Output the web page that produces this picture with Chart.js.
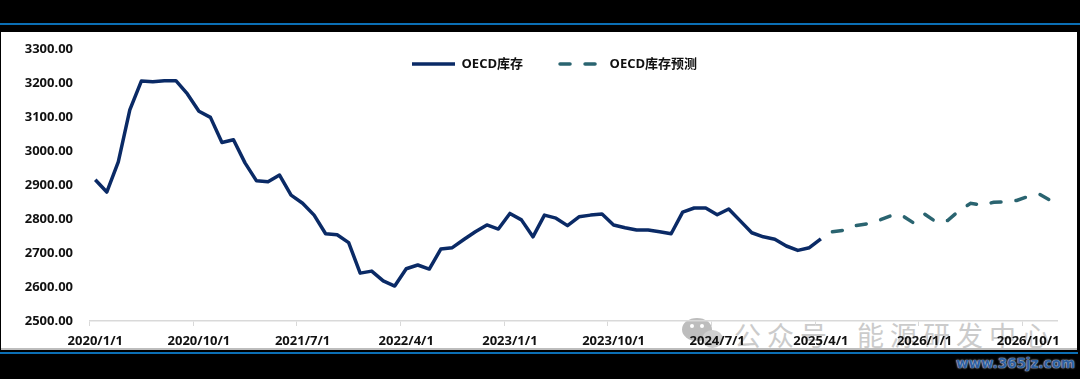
<!DOCTYPE html>
<html><head><meta charset="utf-8">
<script src="https://cdn.jsdelivr.net/npm/chart.js@4"></script>
<style>
html,body{margin:0;padding:0;width:1080px;height:379px;background:#000;overflow:hidden}
.rule{position:absolute;background:#0b6fb5}
#panel{position:absolute;left:1px;top:32px;width:1076px;height:316px;background:#fff;border-bottom:2px solid #bdbdbd;box-sizing:content-box;overflow:hidden}
.mark{position:absolute;top:285px;font:27px "Noto Sans CJK SC";color:#cbcbcb;white-space:nowrap;letter-spacing:6px;line-height:36px}
.bub{position:absolute;border-radius:50%;background:#bdbdbd}
.eye{position:absolute;width:4px;height:4px;border-radius:50%;background:#fff}
#site{position:absolute;left:956px;top:355px;font:bold 13.5px "DejaVu Sans";color:#2f5f9e;text-shadow:0 0 1px #cfe0f5,0 0 2px #cfe0f5;white-space:nowrap}
canvas{position:absolute;left:0;top:0}
</style></head><body>
<div class="rule" style="left:0;top:23px;width:1080px;height:2px"></div>
<div class="rule" style="left:0;top:352px;width:1078px;height:2px"></div>
<div id="panel">
  <div class="bub" style="left:681px;top:286px;width:30px;height:23px"></div>
  <div class="eye" style="left:689px;top:292px"></div>
  <div class="eye" style="left:699px;top:292px"></div>
  <div class="bub" style="left:701px;top:298px;width:21px;height:18px;background:#cfcfcf"></div>
  <div class="mark" style="left:733px">公众号</div>
  <div class="mark" style="left:856px">能源研发中心</div>
</div>
<div id="site">www.365jz.com</div>
<canvas id="c" width="1080" height="379"></canvas>
<script>
const seriesActualName = 'OECD库存';
const seriesForecastName = 'OECD库存预测';
const actualValues = [2916,2880,2969,3122,3207,3205,3208,3208,3169,3118,3100,3026,3034,2966,2913,2910,2930,2871,2847,2812,2757,2754,2731,2641,2647,2618,2603,2654,2665,2653,2712,2716,2740,2763,2783,2771,2817,2798,2748,2812,2803,2781,2807,2812,2815,2783,2775,2768,2768,2763,2757,2821,2833,2833,2813,2830,2795,2760,2748,2741,2721,2708,2716,2742];
const forecastValues = [2763,2767,2781,2786,2796,2809,2812,2790,2815,2792,2796,2825,2847,2841,2850,2851,2855,2867,2873,2854];
const startYear = 2020;
const monthCount = 84;
const labelEvery = 9;

const categories = [];
for (let i = 0; i < monthCount; i++) {
  categories.push((startYear + Math.floor(i / 12)) + '/' + (i % 12 + 1) + '/1');
}
const pad = arr => arr.concat(Array(monthCount - arr.length).fill(null));
const front = (arr) => Array(monthCount - arr.length).fill(null).concat(arr);
const FONT = '"Open Sans","Noto Sans CJK SC",sans-serif';
const axisGrey = '#d9d9d9';
const legendGap = 37;

new Chart(document.getElementById('c'), {
  type: 'line',
  data: {
    labels: categories,
    datasets: [
      {label: seriesActualName, data: pad(actualValues), borderColor: '#0a2a66', backgroundColor: '#0a2a66',
       borderWidth: 3.5, pointRadius: 0, tension: 0, spanGaps: false, pointStyle: 'line', borderJoinStyle: 'round'},
      {label: seriesForecastName, data: front(forecastValues), borderColor: '#2a6470', backgroundColor: '#2a6470',
       borderWidth: 3.5, borderDash: [10, 15], borderCapStyle: 'round', pointRadius: 0, tension: 0, spanGaps: false, pointStyle: 'line'}
    ]
  },
  options: {
    responsive: false,
    animation: false,
    layout: {padding: {top: 39.5, right: 23, left: 0, bottom: 0}},
    plugins: {
      tooltip: {enabled: false},
      legend: {
        position: 'top',
        align: 'start',
        maxHeight: 10,
        labels: {usePointStyle: true, pointStyleWidth: 43, boxHeight: 13, padding: legendGap,
                 color: '#111', font: {family: FONT, size: 13, weight: 'bold'},
                 generateLabels: chart => Chart.defaults.plugins.legend.labels.generateLabels(chart).map((item, i) => {
                   const ds = chart.data.datasets[i];
                   item.lineDash = ds.borderDash || [];
                   item.lineCap = ds.borderCapStyle || 'butt';
                   return item;
                 })}
      }
    },
    scales: {
      x: {
        type: 'category',
        offset: true,
        afterFit: s => { s.height = 58; },
        grid: {
          offset: true, drawOnChartArea: false, tickLength: 5,
          tickColor: c => (c.index % labelEvery === 0 ? axisGrey : 'transparent'),
          color: c => (c.index % labelEvery === 0 ? axisGrey : 'transparent')
        },
        border: {display: true, color: axisGrey, width: 1.5},
        ticks: {
          autoSkip: false, maxRotation: 0, minRotation: 0, padding: 7, color: '#111',
          font: {family: FONT, size: 13, weight: 'bold'},
          callback: function (v, i) { return i % labelEvery === 0 ? this.getLabelForValue(v) : ''; }
        }
      },
      y: {
        min: 2500, max: 3300,
        afterFit: s => { s.width = 89.5; },
        grid: {display: false},
        border: {display: false},
        ticks: {stepSize: 100, padding: 8.5, color: '#111',
          font: {family: FONT, size: 13, weight: 'bold'},
          callback: v => v.toFixed(2)}
      }
    }
  },
  plugins: [{
    id: 'legendPlace',
    afterLayout(chart) {
      const l = chart.legend;
      l.left = 412 - legendGap; l.right = 1000;
      l.top = 64 - legendGap - 6.5; l.bottom = 110;
    }
  }]
});
</script>
</body></html>
